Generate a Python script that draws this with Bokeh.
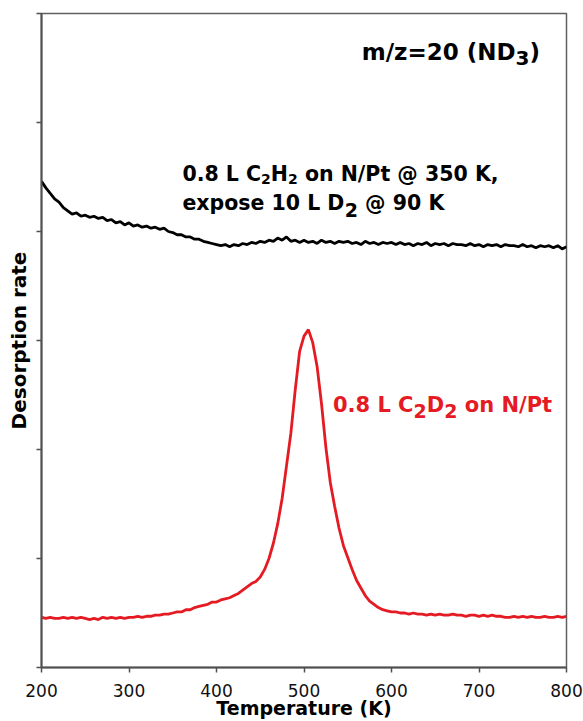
from bokeh.plotting import figure
from bokeh.models import FixedTicker, Range1d, Label, CustomLabelingPolicy
from bokeh.embed import file_html
from bokeh.resources import INLINE

# Temperatures (K), sampled every 5 K
temperature = list(range(200, 805, 5))

# Black trace: 0.8 L C2H2 on N/Pt @ 350 K, expose 10 L D2 @ 90 K
black_rate = [
    4.46, 4.40, 4.35, 4.30, 4.27, 4.22, 4.19, 4.16, 4.17, 4.14,
    4.15, 4.13, 4.14, 4.12, 4.13, 4.10, 4.11, 4.08, 4.09, 4.06,
    4.08, 4.05, 4.06, 4.04, 4.05, 4.03, 4.04, 4.02, 4.03, 4.00,
    3.99, 3.97, 3.97, 3.95, 3.95, 3.93, 3.93, 3.91, 3.90, 3.89,
    3.88, 3.87, 3.88, 3.86, 3.88, 3.87, 3.89, 3.88, 3.90, 3.89,
    3.91, 3.90, 3.92, 3.91, 3.94, 3.92, 3.95, 3.91, 3.92, 3.90,
    3.92, 3.90, 3.91, 3.89, 3.92, 3.90, 3.91, 3.89, 3.91, 3.90,
    3.91, 3.89, 3.90, 3.88, 3.91, 3.89, 3.90, 3.88, 3.90, 3.89,
    3.90, 3.88, 3.90, 3.88, 3.89, 3.87, 3.89, 3.88, 3.90, 3.87,
    3.89, 3.88, 3.89, 3.87, 3.89, 3.88, 3.88, 3.87, 3.89, 3.87,
    3.88, 3.86, 3.88, 3.87, 3.88, 3.86, 3.88, 3.87, 3.87, 3.86,
    3.88, 3.86, 3.87, 3.85, 3.87, 3.86, 3.87, 3.85, 3.87, 3.84,
    3.86,
]

# Red trace: 0.8 L C2D2 on N/Pt
red_rate = [
    0.46, 0.45, 0.46, 0.45, 0.45, 0.46, 0.45, 0.46, 0.45, 0.46,
    0.45, 0.44, 0.45, 0.44, 0.46, 0.45, 0.46, 0.45, 0.46, 0.45,
    0.46, 0.46, 0.47, 0.46, 0.47, 0.47, 0.48, 0.48, 0.49, 0.49,
    0.50, 0.51, 0.51, 0.53, 0.53, 0.55, 0.56, 0.57, 0.58, 0.60,
    0.60, 0.62, 0.63, 0.64, 0.66, 0.68, 0.71, 0.74, 0.77, 0.79,
    0.83, 0.90, 1.00, 1.14, 1.32, 1.55, 1.85, 2.15, 2.55, 2.90,
    3.04, 3.10, 2.98, 2.76, 2.42, 2.02, 1.70, 1.48, 1.28, 1.12,
    1.01, 0.90, 0.80, 0.73, 0.66, 0.61, 0.58, 0.55, 0.53, 0.52,
    0.51, 0.51, 0.50, 0.50, 0.49, 0.50, 0.49, 0.49, 0.48, 0.49,
    0.48, 0.49, 0.48, 0.48, 0.49, 0.48, 0.48, 0.47, 0.48, 0.48,
    0.47, 0.48, 0.47, 0.48, 0.47, 0.47, 0.46, 0.46, 0.47, 0.46,
    0.47, 0.46, 0.47, 0.46, 0.46, 0.47, 0.46, 0.46, 0.47, 0.46,
    0.47,
]

x_ticks = [200, 300, 400, 500, 600, 700, 800]
y_ticks = [0, 1, 2, 3, 4, 5, 6]

RED = "#e41b23"
FONT = "DejaVu Sans"

p = figure(width=583, height=721, output_backend="svg", toolbar_location=None,
           x_range=Range1d(200, 800), y_range=Range1d(0, 6),
           min_border_left=41, min_border_right=17, min_border_top=13,
           min_border_bottom=53)
p.grid.visible = False
p.outline_line_color = "#606060"
p.outline_line_width = 1.5

p.line(temperature, black_rate, line_color="black", line_width=2.8)
p.line(temperature, red_rate, line_color=RED, line_width=2.8)

p.xaxis.ticker = FixedTicker(ticks=x_ticks)
p.yaxis.ticker = FixedTicker(ticks=y_ticks)
for ax in (p.xaxis, p.yaxis):
    ax.axis_line_color = "#505050"
    ax.axis_line_width = 2
    ax.major_tick_line_color = "#505050"
    ax.major_tick_line_width = 1.5
    ax.major_tick_in = 0
    ax.major_tick_out = 5
    ax.minor_tick_line_color = None
    ax.axis_label_text_font = FONT
    ax.axis_label_text_font_style = "bold"
    ax.axis_label_text_color = "black"

p.xaxis.axis_label = "Temperature (K)"
p.xaxis.axis_label_text_font_size = "19px"
p.xaxis.major_label_text_font = FONT
p.xaxis.major_label_text_font_size = "17px"
p.xaxis.major_label_text_color = "#111111"
p.xaxis.major_label_standoff = 11
p.xaxis.axis_label_standoff = -3

p.yaxis.axis_label = "Desorption rate"
p.yaxis.axis_label_text_font_size = "20px"
p.yaxis.major_label_text_font_size = "1px"
p.yaxis.major_label_policy = CustomLabelingPolicy(
    code="for (const i of indices) indices.unset(i)")
p.yaxis.major_label_standoff = 0
p.yaxis.axis_label_standoff = 2

# approximate advance widths (em) of DejaVu Sans Bold, to place subscripts
W = {' ': 0.348, '.': 0.381, ',': 0.381, '/': 0.365, '=': 0.838, '(': 0.458,
     ')': 0.458, '@': 1.002, 'C': 0.734, 'D': 0.830, 'H': 0.837, 'K': 0.775,
     'L': 0.638, 'N': 0.837, 'P': 0.733, 'e': 0.678, 'm': 1.042, 'n': 0.712,
     'o': 0.687, 'p': 0.716, 's': 0.595, 't': 0.478, 'x': 0.663, 'z': 0.580}
for d in "0123456789":
    W[d] = 0.696


def rich_label(x, y, parts, size, sub_size, sub_drop, color):
    off = 0.0
    for txt, sub in parts:
        fs = sub_size if sub else size
        lead = len(txt) - len(txt.lstrip(" "))
        off += lead * W[" "] * fs
        s = txt.strip(" ")
        p.add_layout(Label(x=x, y=y, x_offset=off, y_offset=-sub_drop if sub else 0,
                           text=s, text_font=FONT, text_font_style="bold",
                           text_font_size=f"{fs}px", text_color=color,
                           text_baseline="alphabetic"))
        off += sum(W[c] for c in s) * fs
        trail = len(txt) - len(txt.rstrip(" "))
        off += trail * W[" "] * fs


rich_label(566, 5.65, [("m/z=20 (ND", False), ("3", True), (")", False)],
           23, 20, 6, "black")
rich_label(361, 4.53, [("0.8 L C", False), ("2", True), ("H", False), ("2", True),
                       (" on N/Pt @ 350 K,", False)], 20.5, 14, 5, "black")
rich_label(361, 4.26, [("expose 10 L D", False), ("2", True), (" @ 90 K", False)],
           20.5, 19, 7, "black")
rich_label(533, 2.41, [("0.8 L C", False), ("2", True), ("D", False), ("2", True),
                       (" on N/Pt", False)], 21, 19, 6, RED)

open("out.html", "w").write(file_html(p, INLINE))
